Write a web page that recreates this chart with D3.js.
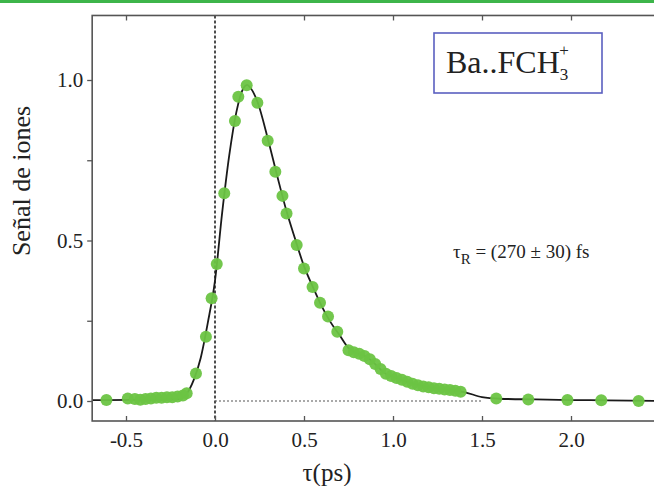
<!DOCTYPE html>
<html><head><meta charset="utf-8">
<script src="https://cdn.jsdelivr.net/npm/d3@7"></script>
<style>html,body{margin:0;padding:0;background:#fff;overflow:hidden}svg{display:block}</style>
</head><body>
<svg id="c" width="654" height="486"></svg>
<script>
// measured points (delay in ps, normalized ion signal)
const delays = [-0.61,-0.49,-0.45,-0.42,-0.39,-0.36,-0.33,-0.30,-0.27,-0.24,-0.21,-0.18,-0.159,-0.107,-0.051,-0.019,0.010,0.052,0.112,0.131,0.178,0.238,0.296,0.339,0.379,0.402,0.459,0.500,0.548,0.590,0.635,0.687,0.75,0.78,0.81,0.84,0.87,0.90,0.93,0.96,0.99,1.02,1.05,1.08,1.11,1.14,1.17,1.20,1.23,1.26,1.29,1.32,1.35,1.38,1.58,1.76,1.98,2.17,2.38];
const signal = [0.003,0.008,0.006,0.004,0.006,0.008,0.010,0.010,0.012,0.012,0.014,0.017,0.024,0.086,0.200,0.320,0.427,0.647,0.872,0.948,0.984,0.929,0.811,0.714,0.639,0.584,0.486,0.413,0.355,0.306,0.263,0.216,0.158,0.152,0.147,0.140,0.130,0.115,0.100,0.085,0.078,0.072,0.066,0.060,0.054,0.049,0.045,0.043,0.040,0.038,0.036,0.034,0.032,0.029,0.008,0.005,0.003,0.002,0.000];
// fitted curve
const fitX = [-0.69,-0.20,-0.16,-0.12,-0.08,-0.04,0.00,0.04,0.08,0.12,0.16,0.18,0.20,0.24,0.30,0.35,0.40,0.45,0.50,0.55,0.60,0.65,0.70,0.75,0.80,0.85,0.90,0.95,1.00,1.10,1.20,1.30,1.40,1.50,1.60,1.80,2.00,2.20,2.50];
const fitY = [0.003,0.006,0.022,0.065,0.135,0.245,0.375,0.585,0.765,0.900,0.975,0.985,0.975,0.930,0.810,0.700,0.595,0.505,0.420,0.355,0.295,0.245,0.205,0.165,0.148,0.138,0.115,0.088,0.076,0.056,0.043,0.035,0.028,0.012,0.007,0.005,0.003,0.002,0.000];
const xTicks = [-0.5,0.0,0.5,1.0,1.5,2.0];
const yTicks = [0,0.25,0.5,0.75,1.0];
const yLabels = [0,0.5,1.0];

const svg = d3.select("#c");
const x = d3.scaleLinear().domain([-0.5,2.0]).range([126,571]);
const y = d3.scaleLinear().domain([0,1]).range([401,80]);
const L = x(-0.69), R = 662, T = y(1.201), B = y(-0.0623);
const serif = "'Liberation Serif','Times New Roman',serif";
const fmt = d => d.toFixed(1);

svg.append("rect").attr("x",0).attr("y",0).attr("width",654).attr("height",3).attr("fill","#3db54a");

// zero reference lines
svg.append("line").attr("x1",x(0)).attr("x2",x(0)).attr("y1",T).attr("y2",B)
  .attr("stroke","#222").attr("stroke-width",1.6).attr("stroke-dasharray","3,2");
svg.append("line").attr("x1",x(0)).attr("x2",x(1.5)).attr("y1",y(0)).attr("y2",y(0))
  .attr("stroke","#555").attr("stroke-width",1.1).attr("stroke-dasharray","2,2");

// fit curve
const line = d3.line().x((d,i)=>x(fitX[i])).y((d,i)=>y(fitY[i])).curve(d3.curveMonotoneX);
svg.append("path").attr("d",line(fitX)).attr("fill","none").attr("stroke","#1a1a1a").attr("stroke-width",1.8);

// points
svg.append("g").selectAll("circle").data(delays).join("circle")
  .attr("cx",(d)=>x(d)).attr("cy",(d,i)=>y(signal[i])).attr("r",6)
  .attr("fill","#6cc443").attr("opacity",0.95);

// frame
svg.append("rect").attr("x",L).attr("y",T).attr("width",R-L).attr("height",B-T)
  .attr("fill","none").attr("stroke","#555").attr("stroke-width",1.6);

// axes
const xb = svg.append("g").attr("transform",`translate(0,${B})`)
  .call(d3.axisBottom(x).tickValues(xTicks).tickSizeInner(-5).tickSizeOuter(0).tickPadding(11).tickFormat(fmt));
const xt = svg.append("g").attr("transform",`translate(0,${T})`)
  .call(d3.axisTop(x).tickValues(xTicks.filter(v=>v!==0)).tickSizeInner(-5).tickSizeOuter(0).tickFormat(""));
const yl = svg.append("g").attr("transform",`translate(${L},0)`)
  .call(d3.axisLeft(y).tickValues(yTicks).tickSize(5).tickPadding(4)
    .tickFormat(d=>yLabels.includes(d)?fmt(d):""));
[xb,xt,yl].forEach(g=>{
  g.attr("font-family",serif).attr("font-size",21);
  g.select(".domain").remove();
  g.selectAll("line").attr("stroke","#555").attr("stroke-width",1.3);
  g.selectAll("text").attr("font-family",serif).attr("font-size",21).attr("fill","#222");
});

// axis titles
svg.append("text").attr("x",327).attr("y",481).attr("text-anchor","middle")
  .attr("font-family",serif).attr("font-size",25).attr("fill","#222").text("τ(ps)");
svg.append("text").attr("transform","translate(30,181) rotate(-90)").attr("text-anchor","middle")
  .attr("font-family",serif).attr("font-size",26).attr("fill","#222").text("Señal de iones");

// legend box
svg.append("rect").attr("x",434).attr("y",33).attr("width",168).attr("height",60)
  .attr("fill","#fff").attr("stroke","#5a5fc0").attr("stroke-width",1.6);
const lt = svg.append("text").attr("x",446).attr("y",73).attr("font-family",serif).attr("font-size",32).attr("fill","#222");
lt.append("tspan").text("Ba..FCH");
lt.append("tspan").attr("font-size",17).attr("dy",7).text("3");
lt.append("tspan").attr("font-size",17).attr("dx",-9).attr("dy",-24).text("+");

// annotation
const an = svg.append("text").attr("x",453).attr("y",258).attr("font-family",serif).attr("font-size",19).attr("fill","#222");
an.append("tspan").text("τ");
an.append("tspan").attr("font-size",15).attr("dy",6).text("R");
an.append("tspan").attr("dy",-6).text(" = (270 ± 30) fs");
</script>
</body></html>
